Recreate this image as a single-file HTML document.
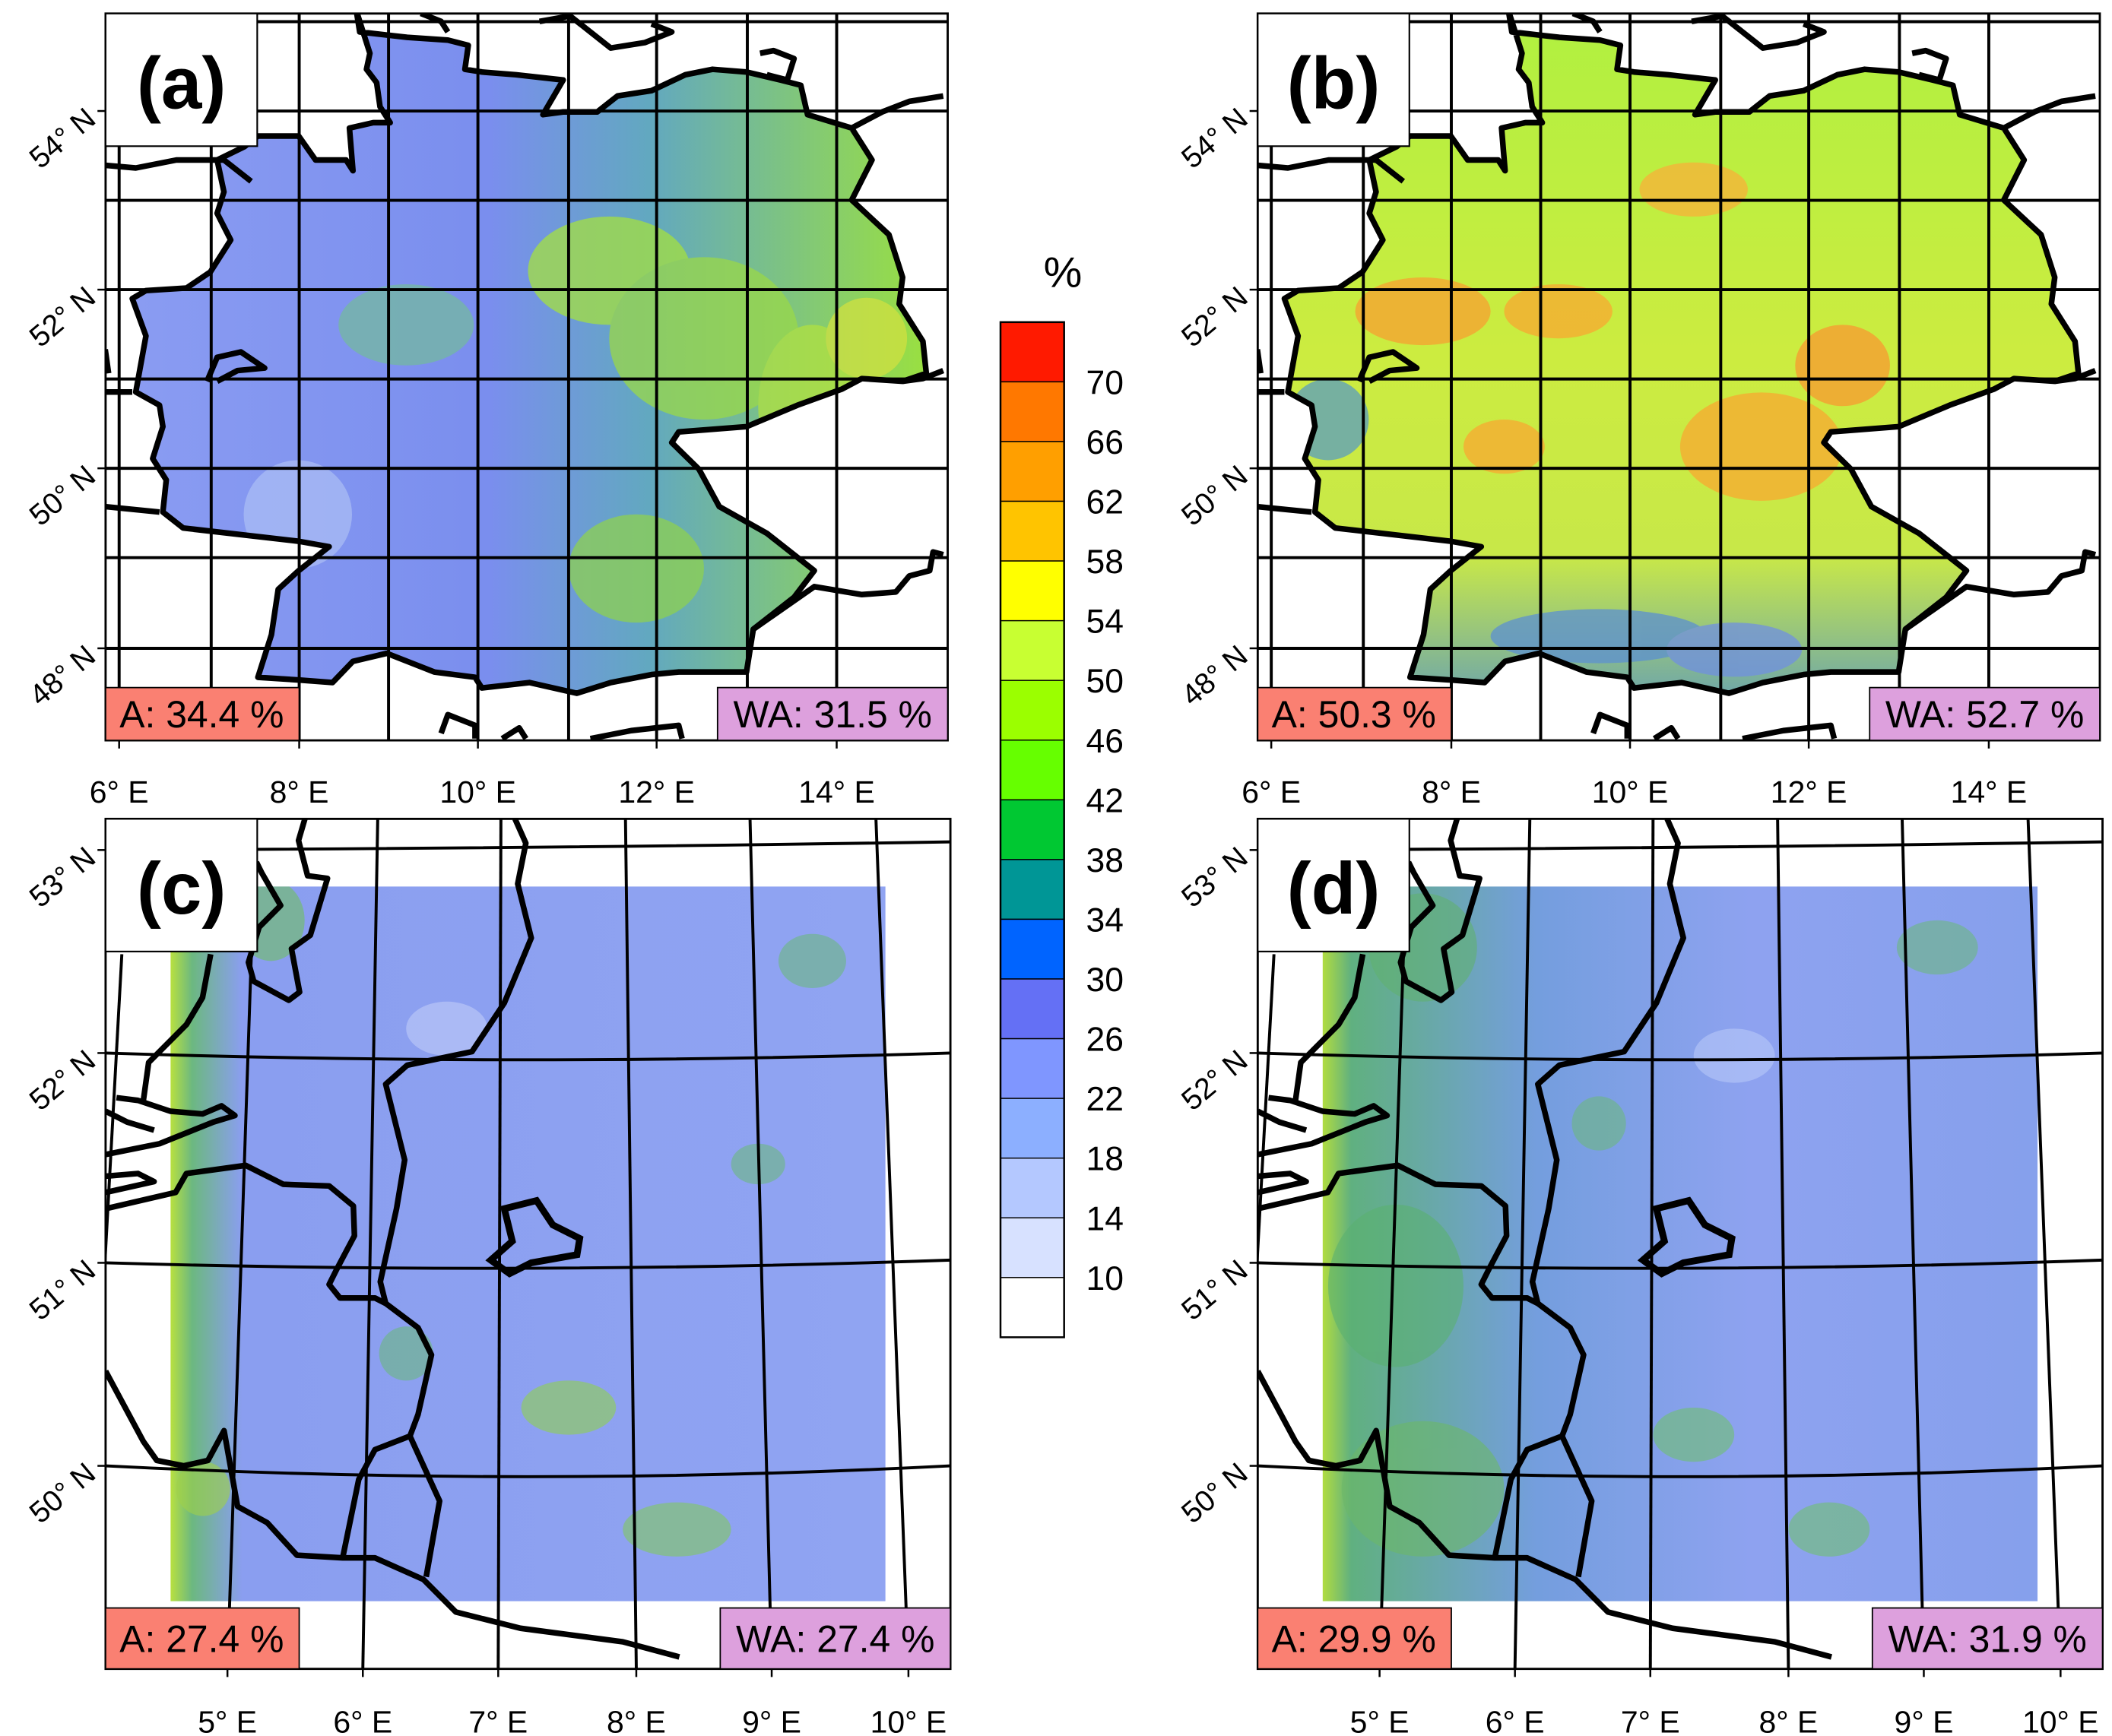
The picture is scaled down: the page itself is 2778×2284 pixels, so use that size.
<!DOCTYPE html>
<html><head><meta charset="utf-8">
<style>
html,body{margin:0;padding:0;background:#fff;}
svg{display:block;font-family:"Liberation Sans",Arial,sans-serif;}
</style></head>
<body>
<svg id="fig" xmlns="http://www.w3.org/2000/svg" width="2778" height="2284" viewBox="0 0 1560 1282.6" preserveAspectRatio="none">
<defs>
  <linearGradient id="ga" x1="0" y1="0" x2="1" y2="0">
    <stop offset="0" stop-color="#8a9cf2"/><stop offset="0.45" stop-color="#7a8eee"/>
    <stop offset="0.65" stop-color="#62a8c0"/><stop offset="1" stop-color="#9ae040"/>
  </linearGradient>
  <linearGradient id="gb" x1="0" y1="0" x2="0" y2="1">
    <stop offset="0" stop-color="#b0f040"/><stop offset="0.5" stop-color="#ccec40"/>
    <stop offset="0.8" stop-color="#c8e848"/><stop offset="1" stop-color="#70a8a8"/>
  </linearGradient>
  <linearGradient id="gc" x1="0" y1="0" x2="1" y2="0">
    <stop offset="0" stop-color="#b8e040"/><stop offset="0.03" stop-color="#6cb880"/>
    <stop offset="0.1" stop-color="#8a9ef0"/><stop offset="1" stop-color="#90a4f2"/>
  </linearGradient>
  <linearGradient id="gd" x1="0" y1="0" x2="1" y2="0">
    <stop offset="0" stop-color="#b0dc40"/><stop offset="0.04" stop-color="#60b080"/>
    <stop offset="0.3" stop-color="#749ede"/><stop offset="0.6" stop-color="#8ea2f0"/><stop offset="1" stop-color="#86a0ec"/>
  </linearGradient>
</defs>
<g id="root"></g>
</svg>
<script>
// colour bar data
const levels = [70,66,62,58,54,50,46,42,38,34,30,26,22,18,14,10];
const binColors = ["#ff1a00","#ff7800","#ff9f00","#ffc400","#ffff00","#c8ff32","#9bff00","#66ff00","#00c832","#009696","#0064ff","#6470f5","#7f96ff","#8cafff","#b4c8ff","#d7e1ff","#ffffff"];
// panel stats
const panelLabels = ["(a)","(b)","(c)","(d)"];
const aValues = ["34.4","50.3","27.4","29.9"];
const waValues = ["31.5","52.7","27.4","31.9"];
// tick labels
const topLonLabels = ["6° E","8° E","10° E","12° E","14° E"];
const topLatLabels = ["54° N","52° N","50° N","48° N"];
const botLonLabels = ["5° E","6° E","7° E","8° E","9° E","10° E"];
const botLatLabels = ["53° N","52° N","51° N","50° N"];

const NS="http://www.w3.org/2000/svg";
const root=document.getElementById('root');
function el(tag,attrs,parent){const e=document.createElementNS(NS,tag);for(const k in attrs)e.setAttribute(k,attrs[k]);(parent||root).appendChild(e);return e;}
function pts(a){return a.map(p=>p[0].toFixed(1)+','+p[1].toFixed(1)).join(' ');}
const BW=4.2, GW=2.2;

// ---------- top panels (a,b) ----------
const topX=[78,929], topY0=10, topY1=547, topW=622;
const gridVx=[88,156,221,287,353,420,485,552,618];
const gridHy=[16,82,148,214,280,346,412,479];
const gerZ=[[525,20],[530,60],[600,70],[660,75],[690,85],[685,130],[710,135],[760,140],[830,150],[800,215],[830,210],[880,210],[910,180],[960,170],[1010,140],[1050,130],[1100,135],[1150,150],[1180,160],[1190,215],[1255,240],[1285,300],[1255,375],[1310,440],[1330,520],[1325,570],[1360,640],[1365,700],[1330,715],[1270,710],[1240,730],[1175,760],[1100,800],[1000,810],[990,830],[1030,880],[1060,950],[1130,1000],[1200,1070],[1170,1120],[1110,1180],[1100,1260],[1000,1260],[960,1265],[900,1280],[850,1300],[780,1280],[710,1290],[700,1270],[640,1260],[570,1225],[520,1240],[490,1280],[440,1275],[380,1270],[400,1190],[410,1105],[440,1070],[485,1025],[440,1015],[270,990],[240,960],[245,900],[225,860],[240,800],[235,760],[200,735],[205,700],[215,630],[195,560],[215,545],[275,540],[310,510],[340,450],[320,400],[330,360],[320,300],[360,275],[380,255],[440,255],[465,300],[510,300],[520,320],[515,240],[550,230],[575,230],[560,200],[555,155],[540,130],[545,100]];
const extraTopZ=[
 [[155,310],[200,315],[260,300],[330,300],[370,340]],
 [[155,735],[195,735]],[[155,950],[235,960]],
 [[155,655],[160,700]],
 [[305,715],[320,670],[355,660],[390,690],[350,695],[320,715]],
 [[650,1375],[660,1340],[700,1360],[700,1385]],[[740,1385],[765,1365],[775,1385]],
 [[870,1385],[930,1370],[1000,1360],[1005,1385]],
 [[1110,1180],[1200,1100],[1270,1115],[1320,1110],[1340,1080],[1370,1070],[1375,1035],[1390,1040]],
 [[1255,240],[1300,210],[1340,190],[1390,180]],
 [[1330,715],[1360,710],[1390,695]],
 [[795,40],[840,30],[870,60],[900,90],[950,80],[990,60],[960,45]],
 [[620,25],[650,40],[660,60]],[[1120,100],[1140,95],[1170,110],[1160,150],[1130,140]]
];
function zt(p,ox){return [p[0]/1.995+ox-78, p[1]/2.538];}

const blobsA=[[450,200,60,40,"#a4e040"],[520,250,70,60,"#9ad848"],[600,300,40,60,"#b0e040"],[640,250,30,30,"#d0e040"],[470,420,50,40,"#8ed050"],[300,240,50,30,"#74b8a0"],[220,380,40,40,"#aabcf4"]];
const blobsB=[[200,230,50,25,"#f8a030"],[300,230,40,20,"#f8a830"],[450,330,60,40,"#f8a830"],[510,270,35,30,"#f89a30"],[330,470,80,20,"#5c90d0"],[430,480,50,20,"#7090e0"],[130,310,30,30,"#5a9cc0"],[400,140,40,20,"#f8b038"],[260,330,30,20,"#f8a830"]];

for(let pi=0;pi<2;pi++){
  const ox=topX[pi];
  const g=el('g',{});
  
  
  const cp='clip'+pi;
  const c=el('clipPath',{id:cp},g);el('rect',{x:ox,y:topY0,width:topW,height:topY1-topY0},c);
  const inner=el('g',{'clip-path':'url(#'+cp+')'},g);
  const outline=gerZ.map(p=>zt(p,ox));
  const land=el('polygon',{points:pts(outline),fill:pi?'url(#gb)':'url(#ga)',stroke:'none'},inner);
  
  
  const lc='landclip'+pi;
  const c2=el('clipPath',{id:lc},g);el('polygon',{points:pts(outline)},c2);
  const bg=el('g',{'clip-path':'url(#'+lc+')',opacity:0.75},inner);
  (pi?blobsB:blobsA).forEach(b=>el('ellipse',{cx:ox+b[0]-78,cy:b[1],rx:b[2],ry:b[3],fill:b[4]},bg));
  gridVx.forEach(x=>el('line',{x1:x+ox-78,y1:topY0,x2:x+ox-78,y2:topY1,stroke:'#000','stroke-width':GW},inner));
  gridHy.forEach(y=>el('line',{x1:ox,y1:y,x2:ox+topW,y2:y,stroke:'#000','stroke-width':GW},inner));
  const bd=el('polygon',{points:pts(outline),fill:'none',stroke:'#000','stroke-width':BW,'stroke-linejoin':'round'},inner);
  
  
  extraTopZ.forEach(l=>el('polyline',{points:pts(l.map(p=>zt(p,ox))),fill:'none',stroke:'#000','stroke-width':BW,'stroke-linejoin':'round'},inner));
  const fr=el('rect',{x:ox,y:topY0,width:topW,height:topY1-topY0,fill:'none',stroke:'#000','stroke-width':1.6},g);
  
  
  [88,221,353,485,618].forEach((x,i)=>{
    const t=el('text',{x:x+ox-78,y:593,'font-size':23,'text-anchor':'middle'},g);t.textContent=topLonLabels[i];
    
    
    el('line',{x1:x+ox-78,y1:topY1,x2:x+ox-78,y2:topY1+6,stroke:'#000','stroke-width':1.4},g);
  });
  [82,214,346,479].forEach((y,i)=>{
    const t=el('text',{x:0,y:0,'font-size':22,'text-anchor':'end',transform:'translate('+(ox-6)+','+(y+8)+') rotate(-40)'},g);t.textContent=topLatLabels[i];
    
    
    el('line',{x1:ox-6,y1:y,x2:ox,y2:y,stroke:'#000','stroke-width':1.4},g);
  });
  addBoxes(g,pi,ox,topY0,ox+topW,topY1);
}

// ---------- bottom panels (c,d) ----------
const botX=[78,929], botY0=605, botY1=1233, botW=624;
function z3(p,ox){return [ox+p[0]/2.513, 605+p[1]/2.5];}
const bordersC=[
 [[370,0],[358,40],[375,105],[412,110],[380,215],[345,240],[360,320],[340,335],[275,300],[265,265],[285,200],[325,160],[290,100],[280,80]],
 [[195,250],[180,330],[150,380],[80,450],[70,520]],
 [[0,620],[100,600],[200,560],[240,548],[215,530],[180,545],[120,540],[60,520],[20,515]],
 [[0,540],[40,560],[90,575]],
 [[0,690],[90,670],[60,655],[0,660]],
 [[0,720],[130,690],[150,655],[260,640],[330,675],[415,678],[460,715],[462,770],[430,830],[415,860],[435,885],[500,885],[520,895],[580,940],[605,990],[580,1100],[565,1140],[500,1165],[470,1220],[440,1365]],
 [[0,1020],[70,1150],[95,1185],[145,1195],[190,1185],[220,1130],[245,1270],[300,1300],[355,1360],[440,1365],[500,1365],[590,1405],[650,1465],[770,1495],[960,1520],[1065,1548]],
 [[565,1140],[620,1260],[595,1400]],
 [[760,0],[780,45],[765,120],[790,220],[740,340],[680,430],[560,455],[520,490],[555,630],[540,720],[510,855],[520,895]]
];
const lakeC=[[740,720],[800,705],[830,750],[880,775],[875,805],[790,820],[750,840],[715,815],[755,780]];
const lonTop=[189,279,370,462,554,647], lonBot=[168,268,368,470,570,671];
const latL=[628,778,933,1083], latM=[626,783,937,1091], latR=[622,778,931,1083];
const blobsC=[[200,680,25,30,"#70c060"],[420,1040,35,20,"#90d050"],[500,1130,40,20,"#80c860"],[560,860,20,15,"#6cb880"],[600,710,25,20,"#6cb880"],[330,760,30,20,"#c0ccf8"],[300,1000,20,20,"#6cb880"],[150,1100,20,20,"#a0d048"]];
const blobsD=[[200,700,40,40,"#60b070"],[180,950,50,60,"#5ab070"],[200,1100,60,50,"#6cb868"],[330,830,20,20,"#6cb880"],[580,700,30,20,"#6cb880"],[400,1060,30,20,"#70c070"],[500,1130,30,20,"#70c070"],[430,780,30,20,"#b8c8f8"]];

for(let pi=0;pi<2;pi++){
  const ox=botX[pi], dx=ox-78;
  const g=el('g',{});
  
  
  const cp='clipb'+pi;
  const c=el('clipPath',{id:cp},g);el('rect',{x:ox,y:botY0,width:botW,height:botY1-botY0},c);
  const inner=el('g',{'clip-path':'url(#'+cp+')'},g);
  const fld=el('rect',{x:126+dx,y:655,width:528,height:528,fill:pi?'url(#gd)':'url(#gc)'},inner);
  
  
  const fc='fclip'+pi;
  const c2=el('clipPath',{id:fc},g);el('rect',{x:126+dx,y:655,width:528,height:528},c2);
  const bg=el('g',{'clip-path':'url(#'+fc+')',opacity:0.6},inner);
  (pi?blobsD:blobsC).forEach(b=>el('ellipse',{cx:b[0]+dx,cy:b[1],rx:b[2],ry:b[3],fill:b[4]},bg));
  lonTop.forEach((x,i)=>el('line',{x1:x+dx,y1:botY0,x2:lonBot[i]+dx,y2:botY1,stroke:'#000','stroke-width':GW},inner));
  el('line',{x1:90+dx,y1:705,x2:76+dx,y2:960,stroke:'#000','stroke-width':GW},inner);
  latL.forEach((y,i)=>el('path',{d:'M'+ox+','+y+' Q'+(ox+312)+','+(2*latM[i]-(y+latR[i])/2)+' '+(ox+botW)+','+latR[i],fill:'none',stroke:'#000','stroke-width':GW},inner));
  bordersC.forEach(l=>el('polyline',{points:pts(l.map(p=>z3(p,ox))),fill:'none',stroke:'#000','stroke-width':BW,'stroke-linejoin':'round'},inner));
  const lk=el('polygon',{points:pts(lakeC.map(p=>z3(p,ox))),fill:'none',stroke:'#000','stroke-width':5},inner);
  
  
  const fr=el('rect',{x:ox,y:botY0,width:botW,height:botY1-botY0,fill:'none',stroke:'#000','stroke-width':1.6},g);
  
  
  lonBot.forEach((x,i)=>{
    const t=el('text',{x:x+dx,y:1280,'font-size':23,'text-anchor':'middle'},g);t.textContent=botLonLabels[i];
    
    
    el('line',{x1:x+dx,y1:botY1,x2:x+dx,y2:botY1+6,stroke:'#000','stroke-width':1.4},g);
  });
  latL.forEach((y,i)=>{
    const t=el('text',{x:0,y:0,'font-size':22,'text-anchor':'end',transform:'translate('+(ox-6)+','+(y+8)+') rotate(-40)'},g);t.textContent=botLatLabels[i];
    
    
    el('line',{x1:ox-6,y1:y,x2:ox,y2:y,stroke:'#000','stroke-width':1.4},g);
  });
  addBoxes(g,pi+2,ox,botY0,ox+botW,botY1);
}

function addBoxes(g,idx,x0,y0,x1,y1){
  const lb=el('rect',{x:x0,y:y0,width:112,height:98,fill:'#fff',stroke:'#000','stroke-width':1.2},g);
  
  
  const lt=el('text',{x:x0+56,y:y0+70,'font-size':54,'font-weight':'bold','text-anchor':'middle'},g);lt.textContent=panelLabels[idx];
  
  
  const h=idx<2?39:45;
  const ab=el('rect',{x:x0,y:y1-h,width:143,height:h,fill:'#fa8072',stroke:'#000','stroke-width':1},g);
  
  
  const at=el('text',{x:x0+71,y:y1-h/2+10,'font-size':28,'text-anchor':'middle'},g);at.textContent='A: '+aValues[idx]+' %';
  
  
  const wb=el('rect',{x:x1-170,y:y1-h,width:170,height:h,fill:'#dda0dd',stroke:'#000','stroke-width':1},g);
  
  
  const wt=el('text',{x:x1-85,y:y1-h/2+10,'font-size':28,'text-anchor':'middle'},g);wt.textContent='WA: '+waValues[idx]+' %';
  
  
}

// ---------- colour bar ----------
const cbX=739, cbY0=238, cbY1=988, cbW=47;
const cb=el('g',{});


const binH=(cbY1-cbY0)/binColors.length;
binColors.forEach((col,i)=>{
  const r=el('rect',{x:cbX,y:cbY0+i*binH,width:cbW,height:binH,fill:col,stroke:'#000','stroke-width':0.8},cb);
  
  
});
el('rect',{x:cbX,y:cbY0,width:cbW,height:cbY1-cbY0,fill:'none',stroke:'#000','stroke-width':1.4},cb);
levels.forEach((v,i)=>{
  const t=el('text',{x:830,y:cbY0+(i+1)*binH+9,'font-size':25,'text-anchor':'end'},cb);t.textContent=v;
  
  
});
const pt=el('text',{x:785,y:212,'font-size':32,'text-anchor':'middle'},cb);pt.textContent='%';


</script>
</body></html>
